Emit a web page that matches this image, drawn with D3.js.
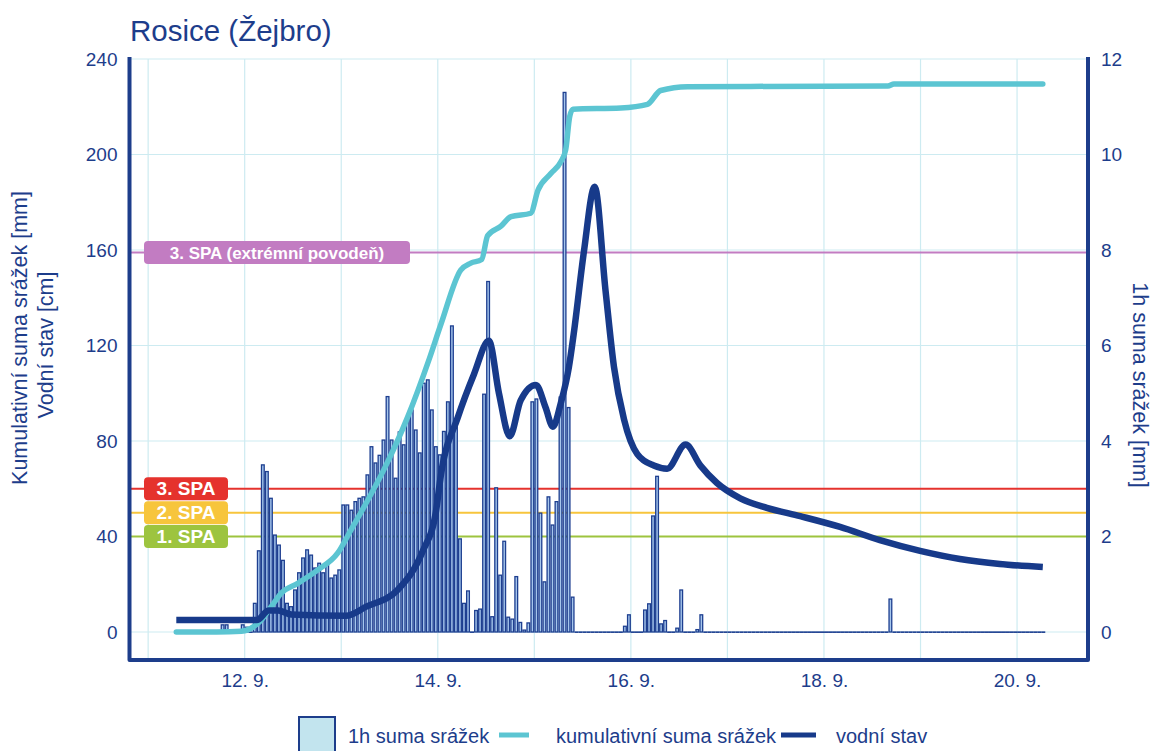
<!DOCTYPE html>
<html>
<head>
<meta charset="utf-8">
<script src="https://cdn.jsdelivr.net/npm/d3@7/dist/d3.min.js"></script>
<style>
  body { margin: 0; background: #fff; }
  svg text { font-family: "Liberation Sans", Arial, sans-serif; }
</style>
</head>
<body>
<svg id="chart" width="1156" height="751"></svg>
<script>
// --- data ----------------------------------------------------------------
var xDomain = ["2024-09-10 19:22", "2024-09-20 17:38"];
var xTickDays = ["2024-09-12 00:00", "2024-09-14 00:00", "2024-09-16 00:00", "2024-09-18 00:00", "2024-09-20 00:00"];
var leftTicks = [0, 40, 80, 120, 160, 200, 240];
var rightTicks = [0, 2, 4, 6, 8, 10, 12];

// 1h suma srážek [mm], hour by hour from 12.9. 02:00
var rainStart = "2024-09-12 02:00";
var rainMain = [
  0.6, 1.7, 3.5, 3.36, 2.8, 2.03, 1.82, 1.5, 0.6, 0.53,
  0.88, 1.24, 1.55, 1.72, 1.61, 1.34, 1.44, 1.24, 1.44, 1.13,
  1.19, 1.3, 2.66, 2.66, 2.55, 2.73, 2.8, 2.83, 3.29, 3.88,
  3.54, 3.7, 4.02, 4.93, 4.02, 3.22, 4.19, 3.92, 4.48, 4.65,
  4.23, 3.75, 5.21, 5.28, 4.65, 3.88, 3.71, 4.2, 4.82, 6.41,
  4.3, 1.95, 0.6, 0.86, 0, 0.45, 0.48, 4.98, 7.34, 0.32,
  3.02, 1.19, 1.9, 0.31, 0.27, 1.16, 0.2, 0.04, 0.19, 4.82,
  4.88, 2.49, 1.05, 2.83, 2.24, 2.73, 4.92, 11.3, 4.7, 0.73
];
// other hours with some rain
var rainOther = [
  ["2024-09-11 18:00", 0.15], ["2024-09-11 19:00", 0.15],
  ["2024-09-11 23:00", 0.15], ["2024-09-12 00:00", 0.1],
  ["2024-09-15 22:00", 0.12], ["2024-09-15 23:00", 0.36],
  ["2024-09-16 03:00", 0.46], ["2024-09-16 04:00", 0.59],
  ["2024-09-16 05:00", 2.43], ["2024-09-16 06:00", 3.26],
  ["2024-09-16 07:00", 0.17], ["2024-09-16 08:00", 0.24],
  ["2024-09-16 11:00", 0.08], ["2024-09-16 12:00", 0.88],
  ["2024-09-16 16:00", 0.05], ["2024-09-16 17:00", 0.36],
  ["2024-09-18 16:00", 0.69]
];
var rainRange = ["2024-09-11 07:00", "2024-09-20 07:00"];

// kumulativní suma srážek [mm]
var cumRain = [
  ["2024-09-11 07:00", 0], ["2024-09-11 17:00", 0], ["2024-09-11 23:12", 0.3],
  ["2024-09-12 04:06", 5], ["2024-09-12 06:36", 10.6], ["2024-09-12 09:06", 16.3],
  ["2024-09-12 13:12", 20.4], ["2024-09-12 18:12", 26], ["2024-09-12 23:06", 33],
  ["2024-09-13 02:24", 42.7], ["2024-09-13 05:42", 52.5], ["2024-09-13 10:36", 68],
  ["2024-09-13 16:30", 90], ["2024-09-13 21:48", 114], ["2024-09-14 00:48", 129],
  ["2024-09-14 05:42", 151.6], ["2024-09-14 08:12", 154.5], ["2024-09-14 10:54", 156],
  ["2024-09-14 12:24", 166], ["2024-09-14 15:42", 170], ["2024-09-14 18:12", 174],
  ["2024-09-14 23:06", 175.4], ["2024-09-15 00:54", 185], ["2024-09-15 04:06", 192],
  ["2024-09-15 06:36", 197], ["2024-09-15 07:48", 202], ["2024-09-15 08:48", 216],
  ["2024-09-15 09:36", 219], ["2024-09-15 21:30", 219.5], ["2024-09-16 04:06", 221],
  ["2024-09-16 07:24", 226.8], ["2024-09-16 14:06", 228.4], ["2024-09-18 15:54", 228.7],
  ["2024-09-18 17:24", 229.5], ["2024-09-20 06:24", 229.5]
];

// vodní stav [cm]
var waterLevel = [
  ["2024-09-11 07:00", 5], ["2024-09-12 03:00", 5], ["2024-09-12 06:00", 9],
  ["2024-09-12 08:18", 9], ["2024-09-12 11:36", 7.3], ["2024-09-13 01:12", 6.8],
  ["2024-09-13 06:12", 10.6], ["2024-09-13 14:00", 17.6], ["2024-09-13 20:18", 34],
  ["2024-09-13 23:30", 50], ["2024-09-14 00:48", 66], ["2024-09-14 05:00", 90],
  ["2024-09-14 09:00", 108], ["2024-09-14 12:42", 122], ["2024-09-14 15:12", 100],
  ["2024-09-14 17:54", 82], ["2024-09-14 20:36", 97], ["2024-09-15 00:24", 103.5],
  ["2024-09-15 02:48", 94], ["2024-09-15 04:36", 86], ["2024-09-15 06:36", 96],
  ["2024-09-15 08:36", 111], ["2024-09-15 09:48", 125], ["2024-09-15 12:18", 159],
  ["2024-09-15 15:00", 186.5], ["2024-09-15 17:42", 143], ["2024-09-15 19:48", 111],
  ["2024-09-15 22:18", 89], ["2024-09-16 01:36", 74.5], ["2024-09-16 05:42", 69.7],
  ["2024-09-16 09:00", 68.4], ["2024-09-16 13:36", 78.5], ["2024-09-16 17:18", 69.7],
  ["2024-09-16 21:24", 62.4], ["2024-09-17 03:12", 56], ["2024-09-17 09:48", 52],
  ["2024-09-17 18:06", 48.5], ["2024-09-18 04:00", 44], ["2024-09-18 13:54", 38.5],
  ["2024-09-18 23:54", 34], ["2024-09-19 09:48", 30.6], ["2024-09-19 19:42", 28.5],
  ["2024-09-20 06:24", 27.2]
];

// stupně povodňové aktivity
var spaNames = ["1. SPA", "2. SPA", "3. SPA", "3. SPA (extrémní povodeň)"];
var spaLevels = [40, 50, 60, 159];
var spaColors = ["#9dc43f", "#f7c53c", "#e5322d", "#c27cc2"];

var legendNames = ["1h suma srážek", "kumulativní suma srážek", "vodní stav"];

// --- drawing ---------------------------------------------------------------
var navy = "#1d3d8b", lineNavy = "#173a8a", cyan = "#5cc5d2", grid = "#cdebf1";
var parse = d3.timeParse("%Y-%m-%d %H:%M");
var plot = {left: 129.5, right: 1088, top: 59, zero: 632, bottom: 660};

var svg = d3.select("#chart");

var x = d3.scaleTime().domain(xDomain.map(parse)).range([plot.left, plot.right]);
var yL = d3.scaleLinear().domain([0, 240]).range([plot.zero, plot.top]);
var yR = d3.scaleLinear().domain([0, 12]).range([plot.zero, plot.top]);

// title
svg.append("text")
  .attr("x", 130).attr("y", 41)
  .attr("font-size", 29.5).attr("fill", navy)
  .text("Rosice (Žejbro)");

// grid
var gridG = svg.append("g");
gridG.selectAll(".vg")
  .data(d3.timeDay.range(x.domain()[0], x.domain()[1]))
  .enter().append("line")
  .attr("x1", d => x(d)).attr("x2", d => x(d))
  .attr("y1", plot.top).attr("y2", plot.bottom)
  .attr("stroke", grid).attr("stroke-width", 1.2);
gridG.selectAll(".hg")
  .data(leftTicks)
  .enter().append("line")
  .attr("x1", plot.left).attr("x2", plot.right)
  .attr("y1", d => yL(d)).attr("y2", d => yL(d))
  .attr("stroke", grid).attr("stroke-width", 1.2);

// SPA lines
svg.append("g").selectAll("line")
  .data(spaLevels)
  .enter().append("line")
  .attr("x1", plot.left).attr("x2", plot.right)
  .attr("y1", d => yL(d)).attr("y2", d => yL(d))
  .attr("stroke", (d, i) => spaColors[i]).attr("stroke-width", 2);

// hourly rain bars
var rainMap = new Map();
var t0 = parse(rainStart);
rainMain.forEach(function(v, i) { rainMap.set(+d3.timeHour.offset(t0, i), v); });
rainOther.forEach(function(d) { rainMap.set(+parse(d[0]), d[1]); });
var hours = d3.timeHour.range(parse(rainRange[0]), parse(rainRange[1]));
var rain = hours.map(function(h) { return {t: h, v: rainMap.get(+h) || 0}; });

svg.append("g").selectAll("rect")
  .data(rain)
  .enter().append("rect")
  .attr("x", d => x(d.t) + 0.7)
  .attr("width", d => x(d3.timeHour.offset(d.t, 1)) - x(d.t) - 1.3)
  .attr("y", d => yR(d.v))
  // zero hours still show as a thin outline on the baseline
  .attr("height", d => Math.max(0.3, yR(0) - yR(d.v)))
  .attr("fill", "#a6c6ec")
  .attr("stroke", "#1e3f90")
  .attr("stroke-width", 1.3);

// cumulative rain
var lineL = d3.line()
  .x(d => x(parse(d[0])))
  .y(d => yL(d[1]))
  .curve(d3.curveMonotoneX);

svg.append("path")
  .attr("d", lineL(cumRain))
  .attr("fill", "none").attr("stroke", cyan)
  .attr("stroke-width", 5.5).attr("stroke-linejoin", "round").attr("stroke-linecap", "round");

// water level
svg.append("path")
  .attr("d", lineL(waterLevel))
  .attr("fill", "none").attr("stroke", lineNavy)
  .attr("stroke-width", 6.5).attr("stroke-linejoin", "round").attr("stroke-linecap", "butt");

// SPA labels
var labG = svg.append("g").selectAll("g")
  .data(spaNames)
  .enter().append("g");
labG.append("rect")
  .attr("x", 144)
  .attr("y", (d, i) => yL(spaLevels[i]) - 11.5)
  .attr("width", (d, i) => i < 3 ? 84 : 266)
  .attr("height", 23).attr("rx", 4)
  .attr("fill", (d, i) => spaColors[i]);
labG.append("text")
  .attr("x", (d, i) => i < 3 ? 186 : 277)
  .attr("y", (d, i) => yL(spaLevels[i]) + 6.5)
  .attr("text-anchor", "middle")
  .attr("font-size", (d, i) => i < 3 ? 19 : 17)
  .attr("font-weight", "bold")
  .attr("fill", "#fff")
  .text(d => d);

// axes (labels only, the frame is drawn below)
var fmt = d3.timeFormat("%-d. %-m.");
var axB = svg.append("g")
  .attr("transform", "translate(0," + (plot.bottom + 27) + ")")
  .call(d3.axisBottom(x).tickValues(xTickDays.map(parse)).tickFormat(fmt).tickSize(0).tickPadding(0));
var axL = svg.append("g")
  .attr("transform", "translate(" + (plot.left - 12) + ",0)")
  .call(d3.axisLeft(yL).tickValues(leftTicks).tickSize(0).tickPadding(0));
var axR = svg.append("g")
  .attr("transform", "translate(" + (plot.right + 13) + ",0)")
  .call(d3.axisRight(yR).tickValues(rightTicks).tickSize(0).tickPadding(0));
[axB, axL, axR].forEach(function(a) {
  a.select(".domain").remove();
  a.selectAll("text")
    .attr("font-family", "Liberation Sans, Arial, sans-serif")
    .attr("font-size", 19).attr("fill", navy);
});
axB.selectAll("text").attr("dy", 0);

// frame
var frame = svg.append("g").attr("stroke", navy).attr("stroke-width", 4).attr("fill", "none")
  .attr("stroke-linejoin", "round");
frame.append("path")
  .attr("d", d3.line()([[plot.left, plot.top - 2], [plot.left, plot.bottom], [plot.right, plot.bottom], [plot.right, plot.top - 2]]));

// axis titles
svg.append("text")
  .attr("transform", "translate(27,338) rotate(-90)")
  .attr("text-anchor", "middle").attr("font-size", 21.5).attr("fill", navy)
  .text("Kumulativní suma srážek [mm]");
svg.append("text")
  .attr("transform", "translate(53,345) rotate(-90)")
  .attr("text-anchor", "middle").attr("font-size", 21.5).attr("fill", navy)
  .text("Vodní stav [cm]");
svg.append("text")
  .attr("transform", "translate(1133,385) rotate(90)")
  .attr("text-anchor", "middle").attr("font-size", 21.5).attr("fill", navy)
  .text("1h suma srážek [mm]");

// legend
var lg = svg.append("g");
lg.append("rect")
  .attr("x", 299).attr("y", 717).attr("width", 36).attr("height", 40)
  .attr("fill", "#c2e4ee").attr("stroke", navy).attr("stroke-width", 2);
lg.append("line").attr("x1", 499).attr("x2", 529).attr("y1", 735).attr("y2", 735)
  .attr("stroke", cyan).attr("stroke-width", 5);
lg.append("line").attr("x1", 781).attr("x2", 816).attr("y1", 735).attr("y2", 735)
  .attr("stroke", lineNavy).attr("stroke-width", 5);
lg.selectAll("text")
  .data(legendNames)
  .enter().append("text")
  .attr("x", (d, i) => [348, 556, 836][i])
  .attr("y", 743)
  .attr("font-size", 20).attr("fill", navy)
  .text(d => d);
</script>
</body>
</html>
